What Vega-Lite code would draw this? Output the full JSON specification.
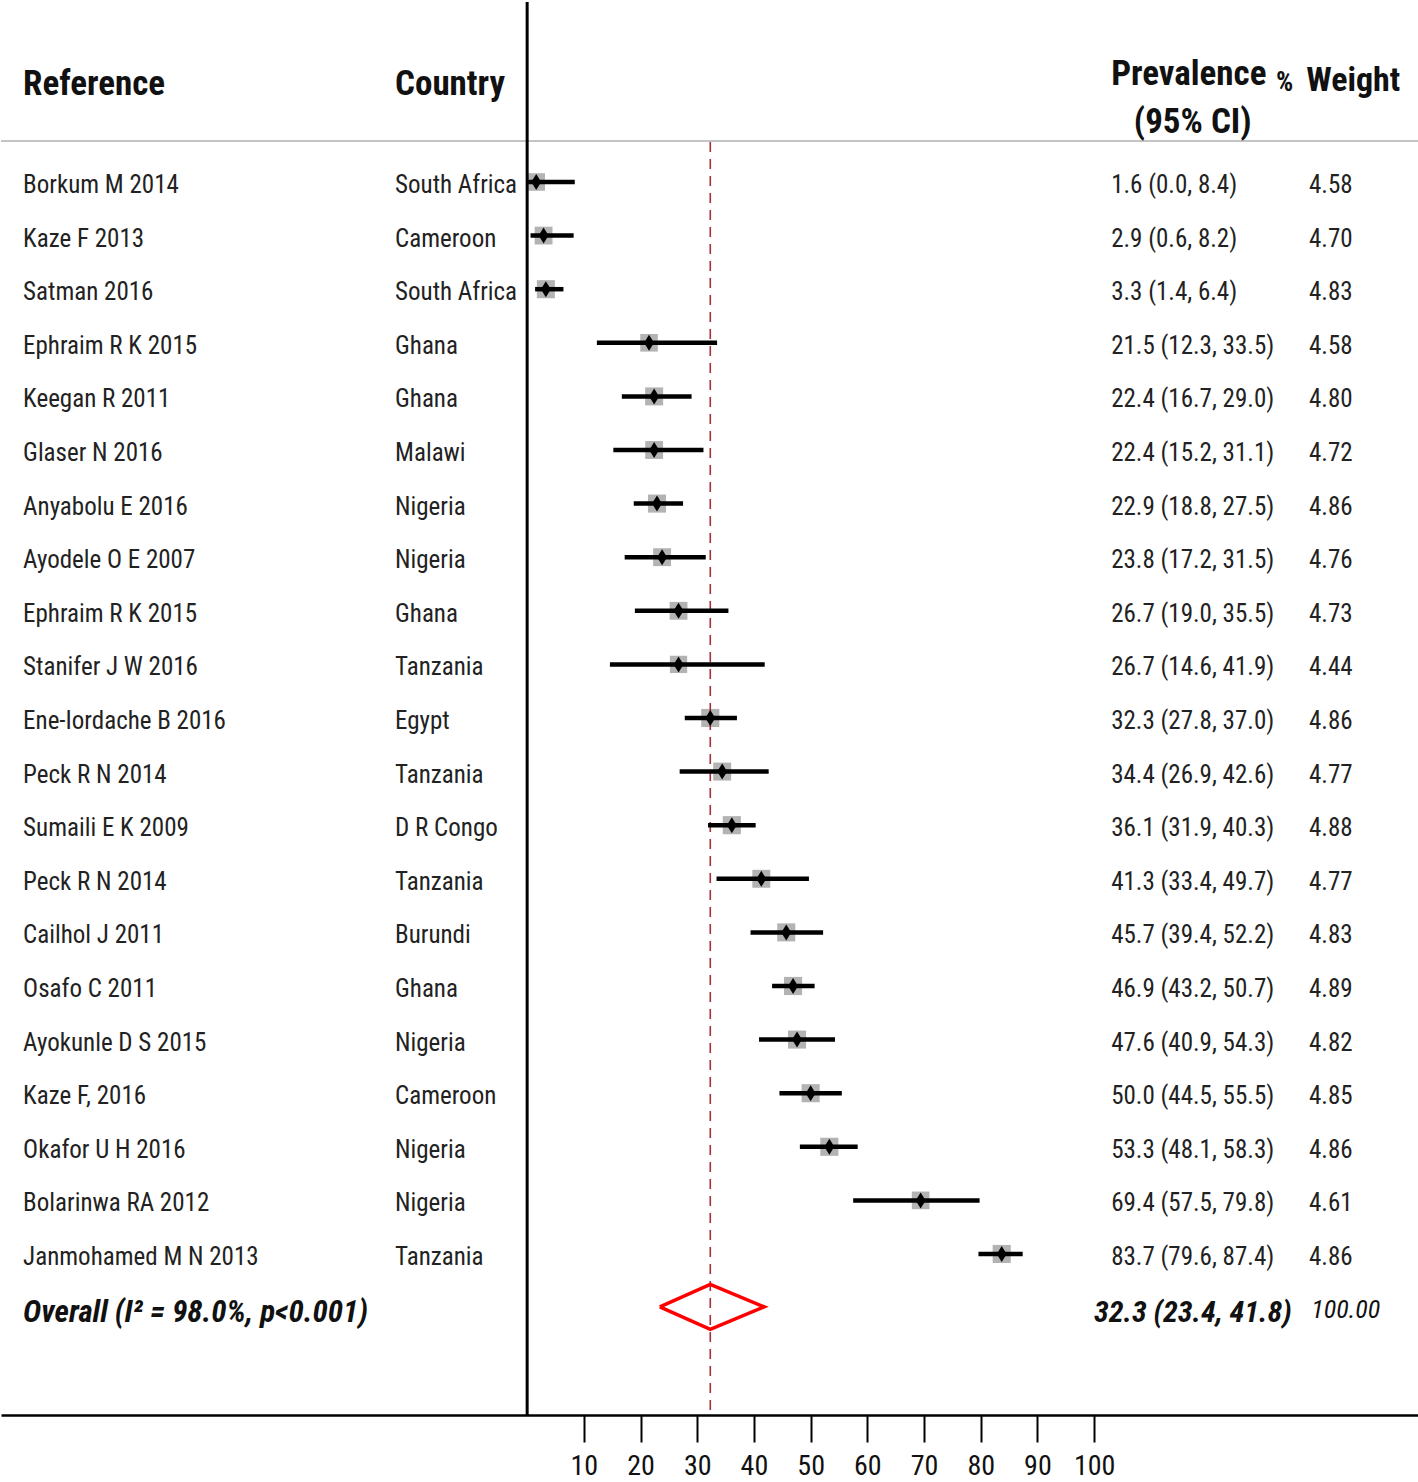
{
  "$schema": "https://vega.github.io/schema/vega-lite/v6.json",
  "width": 1418,
  "height": 1413,
  "padding": 0,
  "background": "white",
  "config": {
    "view": {"stroke": null},
    "text": {"font": "Roboto Condensed, DejaVu Sans Condensed, sans-serif"}
  },
  "datasets": {
    "studies": [
      {"row": 1, "study": "Borkum M 2014", "country": "South Africa", "est": 1.6, "lo": 0.0, "hi": 8.4, "weight": 4.58, "ci": "1.6 (0.0, 8.4)"},
      {"row": 2, "study": "Kaze F 2013", "country": "Cameroon", "est": 2.9, "lo": 0.6, "hi": 8.2, "weight": 4.70, "ci": "2.9 (0.6, 8.2)"},
      {"row": 3, "study": "Satman 2016", "country": "South Africa", "est": 3.3, "lo": 1.4, "hi": 6.4, "weight": 4.83, "ci": "3.3 (1.4, 6.4)"},
      {"row": 4, "study": "Ephraim R K 2015", "country": "Ghana", "est": 21.5, "lo": 12.3, "hi": 33.5, "weight": 4.58, "ci": "21.5 (12.3, 33.5)"},
      {"row": 5, "study": "Keegan R  2011", "country": "Ghana", "est": 22.4, "lo": 16.7, "hi": 29.0, "weight": 4.80, "ci": "22.4 (16.7, 29.0)"},
      {"row": 6, "study": "Glaser N 2016", "country": "Malawi", "est": 22.4, "lo": 15.2, "hi": 31.1, "weight": 4.72, "ci": "22.4 (15.2, 31.1)"},
      {"row": 7, "study": "Anyabolu E 2016", "country": "Nigeria", "est": 22.9, "lo": 18.8, "hi": 27.5, "weight": 4.86, "ci": "22.9 (18.8, 27.5)"},
      {"row": 8, "study": "Ayodele O E 2007", "country": "Nigeria", "est": 23.8, "lo": 17.2, "hi": 31.5, "weight": 4.76, "ci": "23.8 (17.2, 31.5)"},
      {"row": 9, "study": "Ephraim R K 2015", "country": "Ghana", "est": 26.7, "lo": 19.0, "hi": 35.5, "weight": 4.73, "ci": "26.7 (19.0, 35.5)"},
      {"row": 10, "study": "Stanifer J W 2016", "country": "Tanzania", "est": 26.7, "lo": 14.6, "hi": 41.9, "weight": 4.44, "ci": "26.7 (14.6, 41.9)"},
      {"row": 11, "study": "Ene-Iordache B 2016", "country": "Egypt", "est": 32.3, "lo": 27.8, "hi": 37.0, "weight": 4.86, "ci": "32.3 (27.8, 37.0)"},
      {"row": 12, "study": "Peck R N 2014", "country": "Tanzania", "est": 34.4, "lo": 26.9, "hi": 42.6, "weight": 4.77, "ci": "34.4 (26.9, 42.6)"},
      {"row": 13, "study": "Sumaili E K 2009", "country": "D R Congo", "est": 36.1, "lo": 31.9, "hi": 40.3, "weight": 4.88, "ci": "36.1 (31.9, 40.3)"},
      {"row": 14, "study": "Peck R N 2014", "country": "Tanzania", "est": 41.3, "lo": 33.4, "hi": 49.7, "weight": 4.77, "ci": "41.3 (33.4, 49.7)"},
      {"row": 15, "study": "Cailhol J 2011", "country": "Burundi", "est": 45.7, "lo": 39.4, "hi": 52.2, "weight": 4.83, "ci": "45.7 (39.4, 52.2)"},
      {"row": 16, "study": "Osafo C 2011", "country": "Ghana", "est": 46.9, "lo": 43.2, "hi": 50.7, "weight": 4.89, "ci": "46.9 (43.2, 50.7)"},
      {"row": 17, "study": "Ayokunle D S 2015", "country": "Nigeria", "est": 47.6, "lo": 40.9, "hi": 54.3, "weight": 4.82, "ci": "47.6 (40.9, 54.3)"},
      {"row": 18, "study": "Kaze F, 2016", "country": "Cameroon", "est": 50.0, "lo": 44.5, "hi": 55.5, "weight": 4.85, "ci": "50.0 (44.5, 55.5)"},
      {"row": 19, "study": "Okafor U H 2016", "country": "Nigeria", "est": 53.3, "lo": 48.1, "hi": 58.3, "weight": 4.86, "ci": "53.3 (48.1, 58.3)"},
      {"row": 20, "study": "Bolarinwa RA 2012", "country": "Nigeria", "est": 69.4, "lo": 57.5, "hi": 79.8, "weight": 4.61, "ci": "69.4 (57.5, 79.8)"},
      {"row": 21, "study": "Janmohamed M N 2013", "country": "Tanzania", "est": 83.7, "lo": 79.6, "hi": 87.4, "weight": 4.86, "ci": "83.7 (79.6, 87.4)"}
    ],
    "overallDiamond": [
      {"pt": 1, "x": 23.4, "y": 21.93},
      {"pt": 2, "x": 32.3, "y": 21.51},
      {"pt": 3, "x": 41.8, "y": 21.93},
      {"pt": 4, "x": 32.3, "y": 22.35},
      {"pt": 5, "x": 23.4, "y": 21.93}
    ],
    "one": [{}]
  },
  "layer": [
    {
      "data": {"name": "studies"},
      "mark": {"type": "square", "filled": true, "color": "#b3b3b3", "opacity": 1, "yOffset": -3},
      "encoding": {
        "x": {
          "field": "est", "type": "quantitative",
          "scale": {"domain": [-92.8, 157.3], "nice": false, "zero": false},
          "axis": {
            "title": null, "values": [10, 20, 30, 40, 50, 60, 70, 80, 90, 100],
            "grid": false, "domainColor": "black", "domainWidth": 2.5,
            "tickColor": "black", "tickWidth": 2, "tickSize": 27,
            "labelFont": "Roboto Condensed, DejaVu Sans Condensed, sans-serif",
            "labelFontSize": 28, "labelColor": "#111", "labelPadding": 10, "labelFlush": false
          }
        },
        "y": {"field": "row", "type": "quantitative", "scale": {"domain": [-2.414, 23.948], "reverse": true, "nice": false, "zero": false}, "axis": null},
        "size": {"field": "weight", "type": "quantitative", "scale": {"domain": [0, 4.89], "range": [0, 330]}, "legend": null}
      }
    },
    {
      "data": {"name": "one"},
      "mark": {"type": "rule", "color": "#c4c4c4", "strokeWidth": 2},
      "encoding": {
        "y": {"datum": 0.179, "type": "quantitative", "scale": {"domain": [-2.414, 23.948], "reverse": true, "nice": false, "zero": false}, "axis": null}
      }
    },
    {
      "data": {"name": "one"},
      "mark": {"type": "rule", "color": "black", "strokeWidth": 3},
      "encoding": {
        "x": {"datum": 0, "type": "quantitative", "title": null, "scale": {"domain": [-92.8, 157.3], "nice": false, "zero": false}}
      }
    },
    {
      "data": {"name": "one"},
      "mark": {"type": "rule", "color": "#a3303a", "strokeWidth": 1.6, "strokeDash": [10, 7]},
      "encoding": {
        "x": {"datum": 32.3, "type": "quantitative", "title": null, "scale": {"domain": [-92.8, 157.3], "nice": false, "zero": false}},
        "y": {"datum": 0.2, "type": "quantitative", "scale": {"domain": [-2.414, 23.948], "reverse": true, "nice": false, "zero": false}, "axis": null},
        "y2": {"datum": 23.948}
      }
    },
    {
      "data": {"name": "studies"},
      "mark": {"type": "rule", "color": "black", "strokeWidth": 4.5, "yOffset": -3},
      "encoding": {
        "x": {"field": "lo", "type": "quantitative", "title": null, "scale": {"domain": [-92.8, 157.3], "nice": false, "zero": false}},
        "x2": {"field": "hi"},
        "y": {"field": "row", "type": "quantitative", "scale": {"domain": [-2.414, 23.948], "reverse": true, "nice": false, "zero": false}, "axis": null}
      }
    },
    {
      "data": {"name": "studies"},
      "mark": {"type": "point", "shape": "M0,-1L0.62,0L0,1L-0.62,0Z", "filled": true, "color": "black", "opacity": 1, "size": 256, "yOffset": -3},
      "encoding": {
        "x": {"field": "est", "type": "quantitative", "title": null, "scale": {"domain": [-92.8, 157.3], "nice": false, "zero": false}},
        "y": {"field": "row", "type": "quantitative", "scale": {"domain": [-2.414, 23.948], "reverse": true, "nice": false, "zero": false}, "axis": null}
      }
    },
    {
      "data": {"name": "overallDiamond"},
      "mark": {"type": "line", "color": "#ff0000", "strokeWidth": 3.5, "strokeJoin": "miter"},
      "encoding": {
        "x": {"field": "x", "type": "quantitative", "title": null, "scale": {"domain": [-92.8, 157.3], "nice": false, "zero": false}},
        "y": {"field": "y", "type": "quantitative", "scale": {"domain": [-2.414, 23.948], "reverse": true, "nice": false, "zero": false}, "axis": null},
        "order": {"field": "pt", "type": "quantitative"}
      }
    },
    {
      "data": {"name": "studies"},
      "mark": {"type": "text", "align": "left", "baseline": "middle", "fontSize": 25, "color": "#222"},
      "encoding": {
        "x": {"datum": -88.9, "type": "quantitative", "title": null, "scale": {"domain": [-92.8, 157.3], "nice": false, "zero": false}},
        "y": {"field": "row", "type": "quantitative", "scale": {"domain": [-2.414, 23.948], "reverse": true, "nice": false, "zero": false}, "axis": null},
        "text": {"field": "study"}
      }
    },
    {
      "data": {"name": "studies"},
      "mark": {"type": "text", "align": "left", "baseline": "middle", "fontSize": 25, "color": "#222"},
      "encoding": {
        "x": {"datum": -23.3, "type": "quantitative", "title": null, "scale": {"domain": [-92.8, 157.3], "nice": false, "zero": false}},
        "y": {"field": "row", "type": "quantitative", "scale": {"domain": [-2.414, 23.948], "reverse": true, "nice": false, "zero": false}, "axis": null},
        "text": {"field": "country"}
      }
    },
    {
      "data": {"name": "studies"},
      "mark": {"type": "text", "align": "left", "baseline": "middle", "fontSize": 25, "color": "#222"},
      "encoding": {
        "x": {"datum": 103.0, "type": "quantitative", "title": null, "scale": {"domain": [-92.8, 157.3], "nice": false, "zero": false}},
        "y": {"field": "row", "type": "quantitative", "scale": {"domain": [-2.414, 23.948], "reverse": true, "nice": false, "zero": false}, "axis": null},
        "text": {"field": "ci"}
      }
    },
    {
      "data": {"name": "studies"},
      "mark": {"type": "text", "align": "left", "baseline": "middle", "fontSize": 25, "color": "#222"},
      "encoding": {
        "x": {"datum": 137.9, "type": "quantitative", "title": null, "scale": {"domain": [-92.8, 157.3], "nice": false, "zero": false}},
        "y": {"field": "row", "type": "quantitative", "scale": {"domain": [-2.414, 23.948], "reverse": true, "nice": false, "zero": false}, "axis": null},
        "text": {"field": "weight", "format": ".2f"}
      }
    },
    {
      "data": {"name": "one"},
      "mark": {"type": "text", "align": "left", "baseline": "middle", "fontSize": 31, "fontWeight": "bold", "fontStyle": "italic", "color": "#111"},
      "encoding": {
        "x": {"datum": -88.9, "type": "quantitative", "title": null, "scale": {"domain": [-92.8, 157.3], "nice": false, "zero": false}},
        "y": {"datum": 22.04, "type": "quantitative", "scale": {"domain": [-2.414, 23.948], "reverse": true, "nice": false, "zero": false}, "axis": null},
        "text": {"value": "Overall  (I² = 98.0%, p<0.001)"}
      }
    },
    {
      "data": {"name": "one"},
      "mark": {"type": "text", "align": "left", "baseline": "middle", "fontSize": 30, "fontWeight": "bold", "fontStyle": "italic", "color": "#111"},
      "encoding": {
        "x": {"datum": 100.0, "type": "quantitative", "title": null, "scale": {"domain": [-92.8, 157.3], "nice": false, "zero": false}},
        "y": {"datum": 22.04, "type": "quantitative", "scale": {"domain": [-2.414, 23.948], "reverse": true, "nice": false, "zero": false}, "axis": null},
        "text": {"value": "32.3 (23.4, 41.8)"}
      }
    },
    {
      "data": {"name": "one"},
      "mark": {"type": "text", "align": "left", "baseline": "middle", "fontSize": 26, "fontStyle": "italic", "color": "#111"},
      "encoding": {
        "x": {"datum": 138.3, "type": "quantitative", "title": null, "scale": {"domain": [-92.8, 157.3], "nice": false, "zero": false}},
        "y": {"datum": 21.98, "type": "quantitative", "scale": {"domain": [-2.414, 23.948], "reverse": true, "nice": false, "zero": false}, "axis": null},
        "text": {"value": "100.00"}
      }
    },
    {
      "data": {"name": "one"},
      "mark": {"type": "text", "align": "left", "baseline": "middle", "fontSize": 35, "fontWeight": "bold", "color": "#111"},
      "encoding": {
        "x": {"datum": -88.9, "type": "quantitative", "title": null, "scale": {"domain": [-92.8, 157.3], "nice": false, "zero": false}},
        "y": {"datum": -0.884, "type": "quantitative", "scale": {"domain": [-2.414, 23.948], "reverse": true, "nice": false, "zero": false}, "axis": null},
        "text": {"value": "Reference"}
      }
    },
    {
      "data": {"name": "one"},
      "mark": {"type": "text", "align": "left", "baseline": "middle", "fontSize": 35, "fontWeight": "bold", "color": "#111"},
      "encoding": {
        "x": {"datum": -23.3, "type": "quantitative", "title": null, "scale": {"domain": [-92.8, 157.3], "nice": false, "zero": false}},
        "y": {"datum": -0.884, "type": "quantitative", "scale": {"domain": [-2.414, 23.948], "reverse": true, "nice": false, "zero": false}, "axis": null},
        "text": {"value": "Country"}
      }
    },
    {
      "data": {"name": "one"},
      "mark": {"type": "text", "align": "left", "baseline": "middle", "fontSize": 35, "fontWeight": "bold", "color": "#111"},
      "encoding": {
        "x": {"datum": 103.0, "type": "quantitative", "title": null, "scale": {"domain": [-92.8, 157.3], "nice": false, "zero": false}},
        "y": {"datum": -1.07, "type": "quantitative", "scale": {"domain": [-2.414, 23.948], "reverse": true, "nice": false, "zero": false}, "axis": null},
        "text": {"value": "Prevalence"}
      }
    },
    {
      "data": {"name": "one"},
      "mark": {"type": "text", "align": "left", "baseline": "middle", "fontSize": 35, "fontWeight": "bold", "color": "#111"},
      "encoding": {
        "x": {"datum": 107.0, "type": "quantitative", "title": null, "scale": {"domain": [-92.8, 157.3], "nice": false, "zero": false}},
        "y": {"datum": -0.175, "type": "quantitative", "scale": {"domain": [-2.414, 23.948], "reverse": true, "nice": false, "zero": false}, "axis": null},
        "text": {"value": "(95% CI)"}
      }
    },
    {
      "data": {"name": "one"},
      "mark": {"type": "text", "align": "left", "baseline": "middle", "fontSize": 27, "fontWeight": "bold", "color": "#111"},
      "encoding": {
        "x": {"datum": 132.1, "type": "quantitative", "title": null, "scale": {"domain": [-92.8, 157.3], "nice": false, "zero": false}},
        "y": {"datum": -0.9, "type": "quantitative", "scale": {"domain": [-2.414, 23.948], "reverse": true, "nice": false, "zero": false}, "axis": null},
        "text": {"value": "%"}
      }
    },
    {
      "data": {"name": "one"},
      "mark": {"type": "text", "align": "left", "baseline": "middle", "fontSize": 34, "fontWeight": "bold", "color": "#111"},
      "encoding": {
        "x": {"datum": 137.4, "type": "quantitative", "title": null, "scale": {"domain": [-92.8, 157.3], "nice": false, "zero": false}},
        "y": {"datum": -0.94, "type": "quantitative", "scale": {"domain": [-2.414, 23.948], "reverse": true, "nice": false, "zero": false}, "axis": null},
        "text": {"value": "Weight"}
      }
    }
  ]
}
